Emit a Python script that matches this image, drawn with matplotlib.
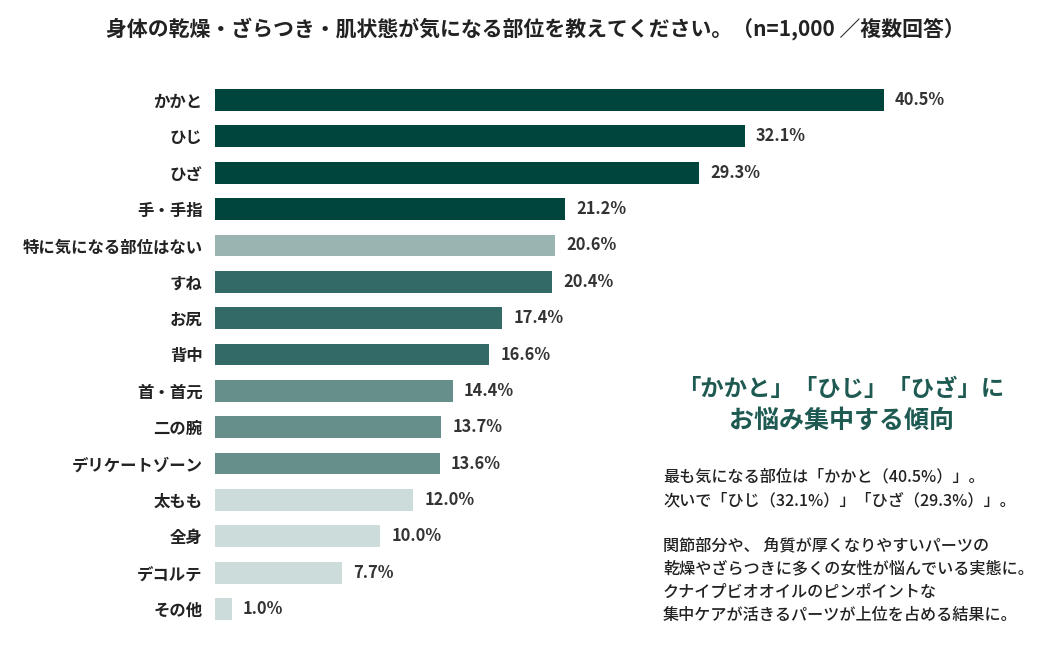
import matplotlib
matplotlib.use("Agg")
import matplotlib.pyplot as plt

plt.rcParams['font.family'] = ['Noto Sans CJK JP', 'DejaVu Sans']

categories = ["かかと", "ひじ", "ひざ", "手・手指", "特に気になる部位はない", "すね", "お尻", "背中",
              "首・首元", "二の腕", "デリケートゾーン", "太もも", "全身", "デコルテ", "その他"]
values = [40.5, 32.1, 29.3, 21.2, 20.6, 20.4, 17.4, 16.6, 14.4, 13.7, 13.6, 12.0, 10.0, 7.7, 1.0]
colors = ["#00443E", "#00443E", "#00443E", "#00443E", "#9AB4B1",
          "#336966", "#336966", "#336966",
          "#668F8B", "#668F8B", "#668F8B",
          "#CCDCDA", "#CCDCDA", "#CCDCDA", "#CCDCDA"]

title = "身体の乾燥・ざらつき・肌状態が気になる部位を教えてください。（n=1,000 ／複数回答）"
heading = ["「かかと」「ひじ」「ひざ」に", "お悩み集中する傾向"]
body = ["最も気になる部位は「かかと（40.5%）」。",
        "次いで「ひじ（32.1%）」「ひざ（29.3%）」。",
        "",
        "関節部分や、 角質が厚くなりやすいパーツの",
        "乾燥やざらつきに多くの女性が悩んでいる実態に。",
        "クナイプビオオイルのピンポイントな",
        "集中ケアが活きるパーツが上位を占める結果に。"]

W, H = 1054, 650
fig = plt.figure(figsize=(W / 100, H / 100), dpi=100)
fig.patch.set_facecolor("white")

ax = fig.add_axes([215 / W, 1 - 627.2 / H, 743 / W, 545.4 / H])
y = list(range(len(categories)))
ax.barh(y, values, height=0.6, color=colors)
ax.set_xlim(0, 45)
ax.set_ylim(len(categories) - 0.5, -0.5)
ax.set_yticks(y)
ax.set_yticklabels(categories, fontsize=11.8, fontweight='bold', color="#222222")
ax.tick_params(axis='y', length=0, pad=9)
ax.set_xticks([])
for s in ax.spines.values():
    s.set_visible(False)

for yi, v in zip(y, values):
    ax.annotate(f"{v:.1f}%", xy=(v, yi), xytext=(8, 0), textcoords="offset points",
                va='center', ha='left', fontsize=11.8, fontweight='bold', color="#333333")

fig.text(535 / W, 1 - 29 / H, title, ha='center', va='center', fontsize=15,
         fontweight='bold', color="#222222")

fig.text(841 / W, 1 - 389 / H, heading[0], ha='center', va='center', fontsize=16.8,
         color="#1E5A52", fontweight='bold')
fig.text(841 / W, 1 - 421 / H, heading[1], ha='center', va='center', fontsize=18,
         color="#1E5A52", fontweight='bold')

body_y = [477, 501, None, 546, 569, 592, 615]
for line, yy in zip(body, body_y):
    if yy is None or not line:
        continue
    fig.text(663 / W, 1 - yy / H, line, ha='left', va='center', fontsize=11.6,
             color="#222222", fontweight='medium')

fig.savefig("out.png", dpi=100, facecolor="white")
